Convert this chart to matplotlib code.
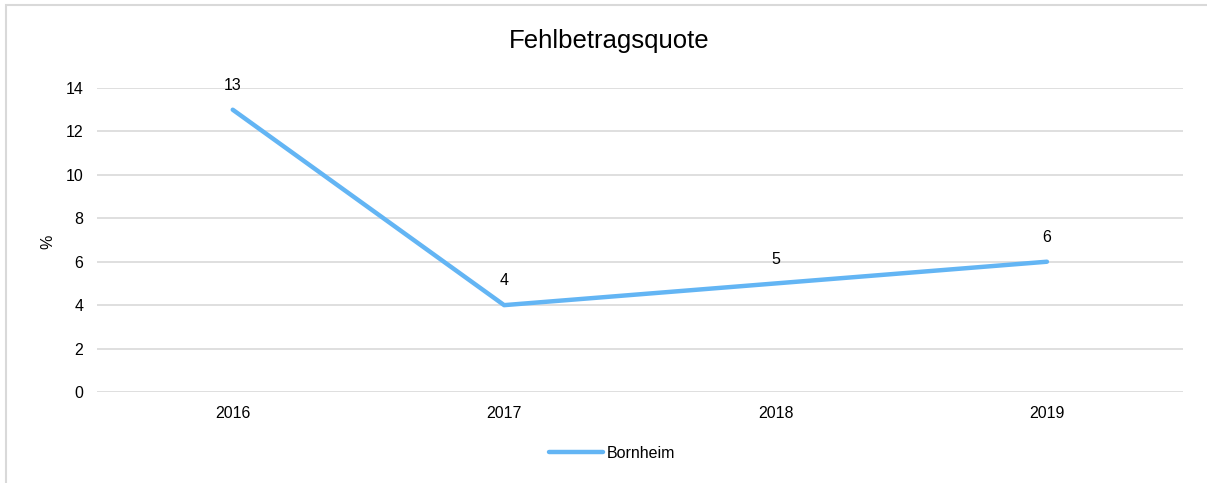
import matplotlib.pyplot as plt
from matplotlib.patches import Rectangle

# Fehlbetragsquote in Prozent
years = ["2016", "2017", "2018", "2019"]
bornheim = [13, 4, 5, 6]
y_ticks = [0, 2, 4, 6, 8, 10, 12, 14]

plt.rcParams['font.family'] = ['Liberation Sans', 'DejaVu Sans']
fs = 11.5

fig = plt.figure(figsize=(12.07, 4.83), dpi=100)
ax = fig.add_axes([0.0804, 0.1884, 0.8994, 0.6294])

# light frame around the whole chart
fig.patches.append(Rectangle((6 / 1207, -0.01), 1.02, 1 - 5 / 483 + 0.01,
                             transform=fig.transFigure, fill=False,
                             edgecolor='#d9d9d9', linewidth=1.5))

x = list(range(len(years)))
line_color = '#63b5f4'
ax.plot(x, bornheim, color=line_color, linewidth=3.2, solid_capstyle='round',
        label='Bornheim', zorder=3)

for xi, v in zip(x, bornheim):
    ax.annotate(str(v), (xi, v), xytext=(0, 12), textcoords='offset points',
                ha='center', va='bottom', fontsize=fs, color='#000000')

ax.set_xlim(-0.5, len(years) - 0.5)
ax.set_ylim(0, 14)
ax.set_xticks(x)
ax.set_xticklabels(years)
ax.set_yticks(y_ticks)
ax.tick_params(axis='both', length=0, labelsize=fs, colors='#000000')
ax.tick_params(axis='x', pad=10)
ax.tick_params(axis='y', pad=10)
ax.grid(axis='y', color='#d9d9d9', linewidth=1.2)
ax.set_axisbelow(True)
for s in ax.spines.values():
    s.set_visible(False)

fig.text(48 / 1207, 1 - 242 / 483, '%', rotation=90, ha='center', va='center',
         fontsize=fs)
fig.text(0.505, 0.915, 'Fehlbetragsquote', ha='center', va='center', fontsize=18.5)

fig.legend(loc='center', bbox_to_anchor=(0.507, 0.062), frameon=False,
           fontsize=fs, handlelength=3.4, handletextpad=0.25)

fig.savefig('out.png', dpi=100)
